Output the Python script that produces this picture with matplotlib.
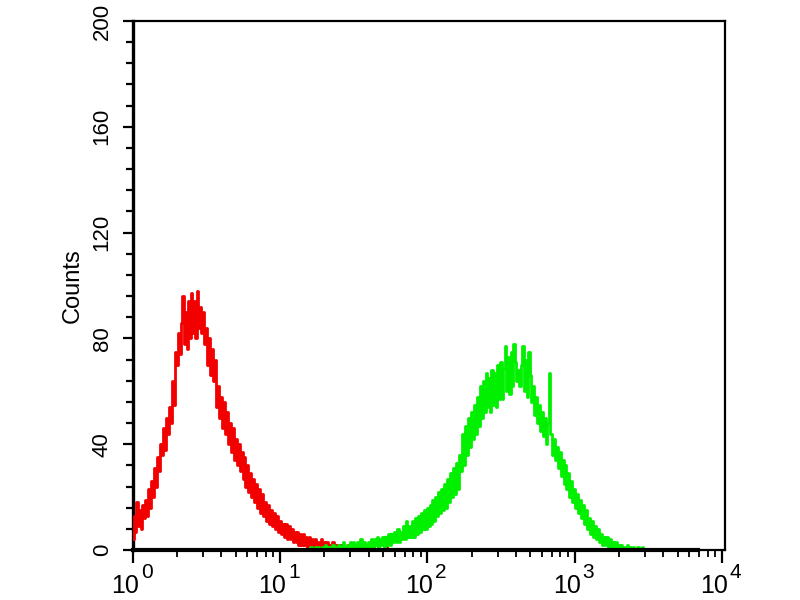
import numpy as np
import matplotlib
matplotlib.use("Agg")
import matplotlib.pyplot as plt
from matplotlib.ticker import FixedLocator, LogLocator, NullFormatter
import matplotlib.transforms as mtransforms

plt.rcParams['font.family'] = ['Liberation Sans', 'DejaVu Sans']

# ---- data: histogram channels on a log10 scale ----
channel_step = 0.01          # log10 width of one channel
red_start = 0.00             # log10 of first red channel
green_start = 1.20           # log10 of first green channel

red_counts = [
    4, 13, 7, 18, 9, 15, 8, 17, 12, 19,
    13, 23, 16, 26, 20, 31, 24, 35, 30, 40,
    36, 46, 38, 50, 44, 54, 48, 64, 55, 75,
    70, 82, 74, 86, 96, 78, 90, 76, 94, 80,
    97, 82, 94, 80, 98, 84, 92, 82, 90, 78,
    84, 70, 80, 66, 76, 64, 72, 54, 62, 50,
    58, 46, 56, 44, 52, 40, 48, 37, 46, 34,
    42, 32, 40, 30, 37, 27, 35, 24, 32, 22,
    29, 20, 27, 18, 25, 16, 23, 14, 21, 13,
    18, 11, 17, 10, 15, 9, 14, 8, 13, 7,
    11, 6, 10, 5, 10, 4, 9, 4, 8, 3,
    7, 3, 7, 2, 6, 2, 6, 2, 5, 1,
    5, 1, 4, 1, 4, 1, 3, 0, 4, 1,
    3, 0, 3, 1, 2, 0, 3, 1, 2, 0,
    2, 0, 2, 1, 1, 0, 2, 0, 1, 0,
    1, 0, 2, 0, 1, 0, 1, 0, 1, 0,
    1, 0, 0, 1, 0, 0, 0, 1, 0, 0,
    0, 0, 1, 0, 0, 0, 0, 0, 0, 0, 0,
]

green_counts = [
    0, 1, 0, 0, 1, 0, 1, 0, 0, 1,
    0, 2, 0, 1, 0, 1, 2, 0, 1, 0,
    2, 0, 1, 3, 0, 1, 2, 0, 3, 1,
    3, 0, 2, 3, 1, 4, 0, 3, 2, 1,
    3, 1, 4, 1, 4, 2, 5, 1, 4, 2,
    5, 1, 5, 2, 6, 2, 6, 3, 7, 3,
    8, 3, 7, 4, 9, 4, 11, 5, 9, 5,
    11, 5, 12, 6, 13, 7, 14, 8, 15, 8,
    16, 9, 17, 10, 19, 11, 20, 13, 22, 14,
    23, 15, 25, 16, 27, 18, 29, 20, 31, 21,
    33, 23, 36, 30, 44, 32, 47, 36, 50, 39,
    52, 42, 55, 44, 58, 47, 62, 50, 64, 52,
    67, 54, 65, 52, 68, 55, 67, 54, 70, 57,
    71, 57, 69, 77, 60, 73, 59, 75, 62, 78,
    71, 64, 68, 62, 70, 77, 60, 72, 58, 75,
    66, 56, 62, 51, 58, 48, 55, 45, 52, 43,
    50, 40, 48, 67, 44, 36, 42, 34, 39, 31,
    37, 28, 34, 25, 32, 23, 29, 20, 26, 18,
    23, 16, 21, 14, 19, 12, 17, 10, 15, 8,
    12, 6, 11, 5, 9, 4, 8, 3, 6, 2,
    5, 2, 5, 1, 4, 1, 3, 1, 3, 0,
    2, 0, 2, 1, 1, 0, 2, 0, 1, 0,
    1, 0, 0, 1, 0, 0, 1, 0, 0, 0, 0,
]

y_major = [0, 40, 80, 120, 160, 200]
x_decades = [0, 1, 2, 3, 4]
y_label = "Counts"

# ---- figure ----
fig = plt.figure(figsize=(8, 6), dpi=100)
ax = fig.add_axes([0.166, 0.0833, 0.74, 0.8817])

red_x = 10 ** (red_start + channel_step * np.arange(len(red_counts)))
green_x = 10 ** (green_start + channel_step * np.arange(len(green_counts)))

ax.step(red_x, red_counts, where='mid', color='#f20000', lw=2.0, zorder=3)
ax.step(green_x, green_counts, where='mid', color='#00f000', lw=2.0, zorder=3)

ax.set_xscale('log')
ax.set_xlim(1, 10 ** 4.02)
ax.set_ylim(0, 200)

# spines
for s in ['top', 'right']:
    ax.spines[s].set_linewidth(1.6)
ax.spines['left'].set_linewidth(2.4)
ax.spines['bottom'].set_linewidth(1.6)
ax.axhline(0, xmin=0, xmax=0.954, color='black', lw=3.0, zorder=4, clip_on=False)

# y ticks
ax.yaxis.set_major_locator(FixedLocator(y_major))
ax.yaxis.set_minor_locator(FixedLocator(np.arange(0, 201, 8)))
ax.tick_params(axis='y', which='major', direction='out', length=7.5, width=1.6,
               labelsize=16, pad=7)
ax.tick_params(axis='y', which='minor', direction='out', length=5, width=1.6)
for lab in ax.get_yticklabels():
    lab.set_rotation(90)
    lab.set_va('center')

# x ticks
ax.xaxis.set_major_locator(FixedLocator([10 ** d for d in x_decades]))
ax.xaxis.set_minor_locator(LogLocator(base=10, subs=np.arange(2, 10), numticks=20))
ax.xaxis.set_major_formatter(NullFormatter())
ax.xaxis.set_minor_formatter(NullFormatter())
ax.tick_params(axis='x', which='major', direction='out', length=9, width=1.6)
ax.tick_params(axis='x', which='minor', direction='out', length=5, width=1.3)

# custom decade labels: "10" with a large superscript
for d in x_decades:
    base_tr = mtransforms.offset_copy(ax.get_xaxis_transform(), fig=fig, x=6, y=-43, units='dots')
    ax.text(10 ** d, 0, "10", transform=base_tr, ha='right', va='baseline', fontsize=18)
    sup_tr = mtransforms.offset_copy(ax.get_xaxis_transform(), fig=fig, x=8, y=-28, units='dots')
    ax.text(10 ** d, 0, str(d), transform=sup_tr, ha='left', va='baseline', fontsize=15)

ax.set_ylabel(y_label, fontsize=17)
ax.yaxis.set_label_coords(-0.083, 0.5)

fig.savefig("out.png", dpi=100)
